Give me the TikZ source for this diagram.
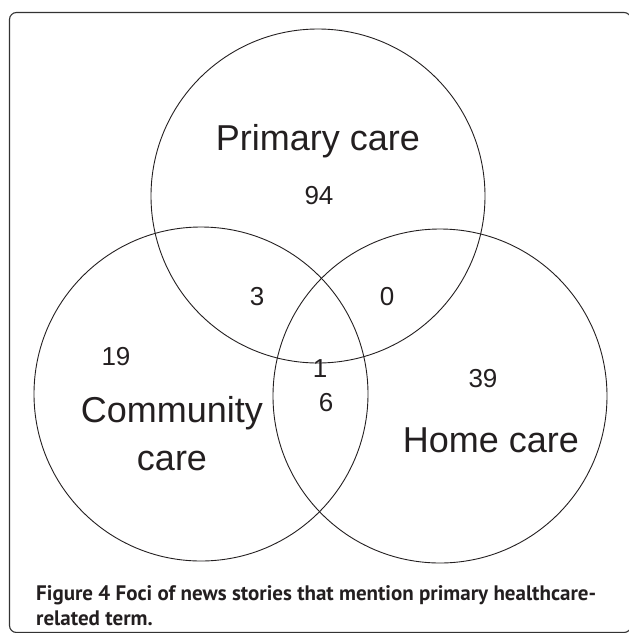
\documentclass[tikz,border=0pt]{standalone}
\usepackage{fontspec}
\setmainfont{Liberation Sans}
\newfontfamily\capfont{PT Sans}
\definecolor{ink}{HTML}{231F20}
\definecolor{framec}{HTML}{333333}
\begin{document}
\begin{tikzpicture}[x=1pt,y=-1pt,
  venn/.style={draw=ink,line width=0.9pt},
  lbl/.style={text=ink,font=\fontsize{36}{40}\selectfont,inner sep=0pt,anchor=base},
  num/.style={text=ink,font=\fontsize{26}{30}\selectfont,inner sep=0pt},
  captext/.style={text=ink,font=\capfont\bfseries\fontsize{21}{25}\selectfont,inner sep=0pt,anchor=base west}]
\useasboundingbox (0,0) rectangle (629,633);
\clip (0,0) rectangle (629,633);
\draw[framec,line width=1.1pt,rounded corners=7pt] (9.5,12.5) rectangle (631,632.5);
\node[venn,circle,minimum size=334pt,inner sep=0pt] (primary) at (318,196) {};
\node[venn,circle,minimum size=334pt,inner sep=0pt] (community) at (201,394) {};
\node[venn,circle,minimum size=334pt,inner sep=0pt] (home) at (440,396) {};
\node[lbl] (lp) at (318,150) {Primary care};
\node[lbl] (lc1) at (172,422) {Community};
\node[lbl] (lc2) at (172,470) {care};
\node[lbl] (lh) at (491,452) {Home care};
\node[num] (n94) at (319,196) {94};
\node[num] (n3) at (257,297) {3};
\node[num] (n0) at (387,297) {0};
\node[num] (n1) at (320,369) {1};
\node[num] (n19) at (116,357) {19};
\node[num] (n6) at (326,403) {6};
\node[num] (n39) at (483,379) {39};
\node[captext] (cap1) at (36,600) {Figure 4 \mdseries\fontseries{b}\selectfont Foci of news stories that mention primary healthcare-};
\node[captext] (cap2) at (36,625) {related term.};
\end{tikzpicture}
\end{document}
